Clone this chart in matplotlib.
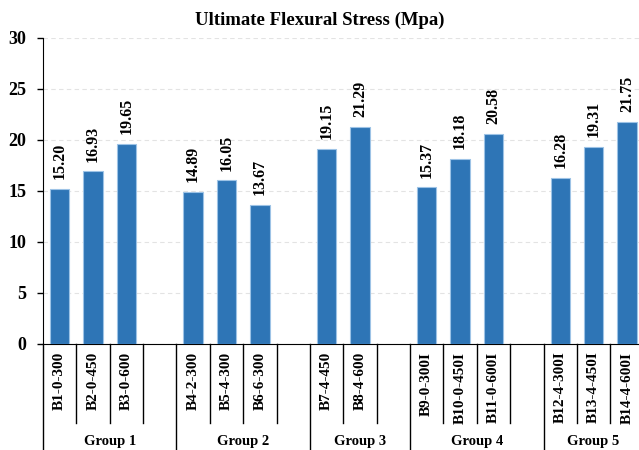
import matplotlib.pyplot as plt

plt.rcParams['font.family'] = ['Liberation Serif', 'DejaVu Serif']
plt.rcParams['font.weight'] = 'bold'

# chart data
groups = ['Group 1', 'Group 2', 'Group 3', 'Group 4', 'Group 5']
group_labels = [
    ['B1-0-300', 'B2-0-450', 'B3-0-600'],
    ['B4-2-300', 'B5-4-300', 'B6-6-300'],
    ['B7-4-450', 'B8-4-600'],
    ['B9-0-300I', 'B10-0-450I', 'B11-0-600I'],
    ['B12-4-300I', 'B13-4-450I', 'B14-4-600I'],
]
group_values = [
    [15.20, 16.93, 19.65],
    [14.89, 16.05, 13.67],
    [19.15, 21.29],
    [15.37, 18.18, 20.58],
    [16.28, 19.31, 21.75],
]

fig = plt.figure(figsize=(6.39, 4.5), dpi=100)
ax = fig.add_axes([0.0673, 0.2356, 0.94, 0.68])

# lay out slots: each group followed by one empty slot (except last)
xs, vals, labels, bounds = [], [], [], [0]
pos = 0
for gi, (labs, vs) in enumerate(zip(group_labels, group_values)):
    for lab, v in zip(labs, vs):
        xs.append(pos + 0.5)
        vals.append(v)
        labels.append(lab)
        pos += 1
    if gi < len(groups) - 1:
        pos += 1
    bounds.append(pos)
nslots = pos

ax.bar(xs, vals, width=0.58, color='#2E75B6', edgecolor='#9DC3E6',
       linewidth=0.8, zorder=3)
for x, v in zip(xs, vals):
    ax.text(x, v + 0.95, f'{v:.2f}', rotation=90, ha='center', va='bottom',
            fontsize=11.5, fontweight='bold')

ax.set_xlim(0, nslots)
ax.set_ylim(0, 30)
ax.set_yticks(range(0, 31, 5))
ax.tick_params(axis='y', labelsize=13, length=4, width=1, direction='out',
               pad=8)
ax.set_xticks([])
ax.yaxis.grid(True, color='#E3E3E3', linestyle=(0, (4, 3)), linewidth=0.8,
              zorder=0)
for s in ['top', 'right']:
    ax.spines[s].set_visible(False)
ax.spines['bottom'].set_color('black')
ax.spines['left'].set_color('black')

tr = ax.get_xaxis_transform()
# short separators between categories
for b in range(1, nslots):
    if b in bounds:
        continue
    ax.plot([b, b], [0, -0.258], transform=tr, color='black', lw=1,
            clip_on=False)
# long separators between groups
for b in bounds:
    ax.plot([b, b], [0, -0.36], transform=tr, color='black', lw=1,
            clip_on=False)
for x, lab in zip(xs, labels):
    ax.text(x, -0.025, lab, transform=tr, rotation=90, ha='center',
            va='top', fontsize=11, fontweight='bold')
for gi, g in enumerate(groups):
    mid = (bounds[gi] + bounds[gi + 1]) / 2
    ax.text(mid, -0.32, g, transform=tr, ha='center', va='center',
            fontsize=10.5, fontweight='bold')

fig.text(0.5, 0.955, 'Ultimate Flexural Stress (Mpa)', ha='center',
         va='center', fontsize=13.5, fontweight='bold')

fig.savefig('out.png', dpi=100)
